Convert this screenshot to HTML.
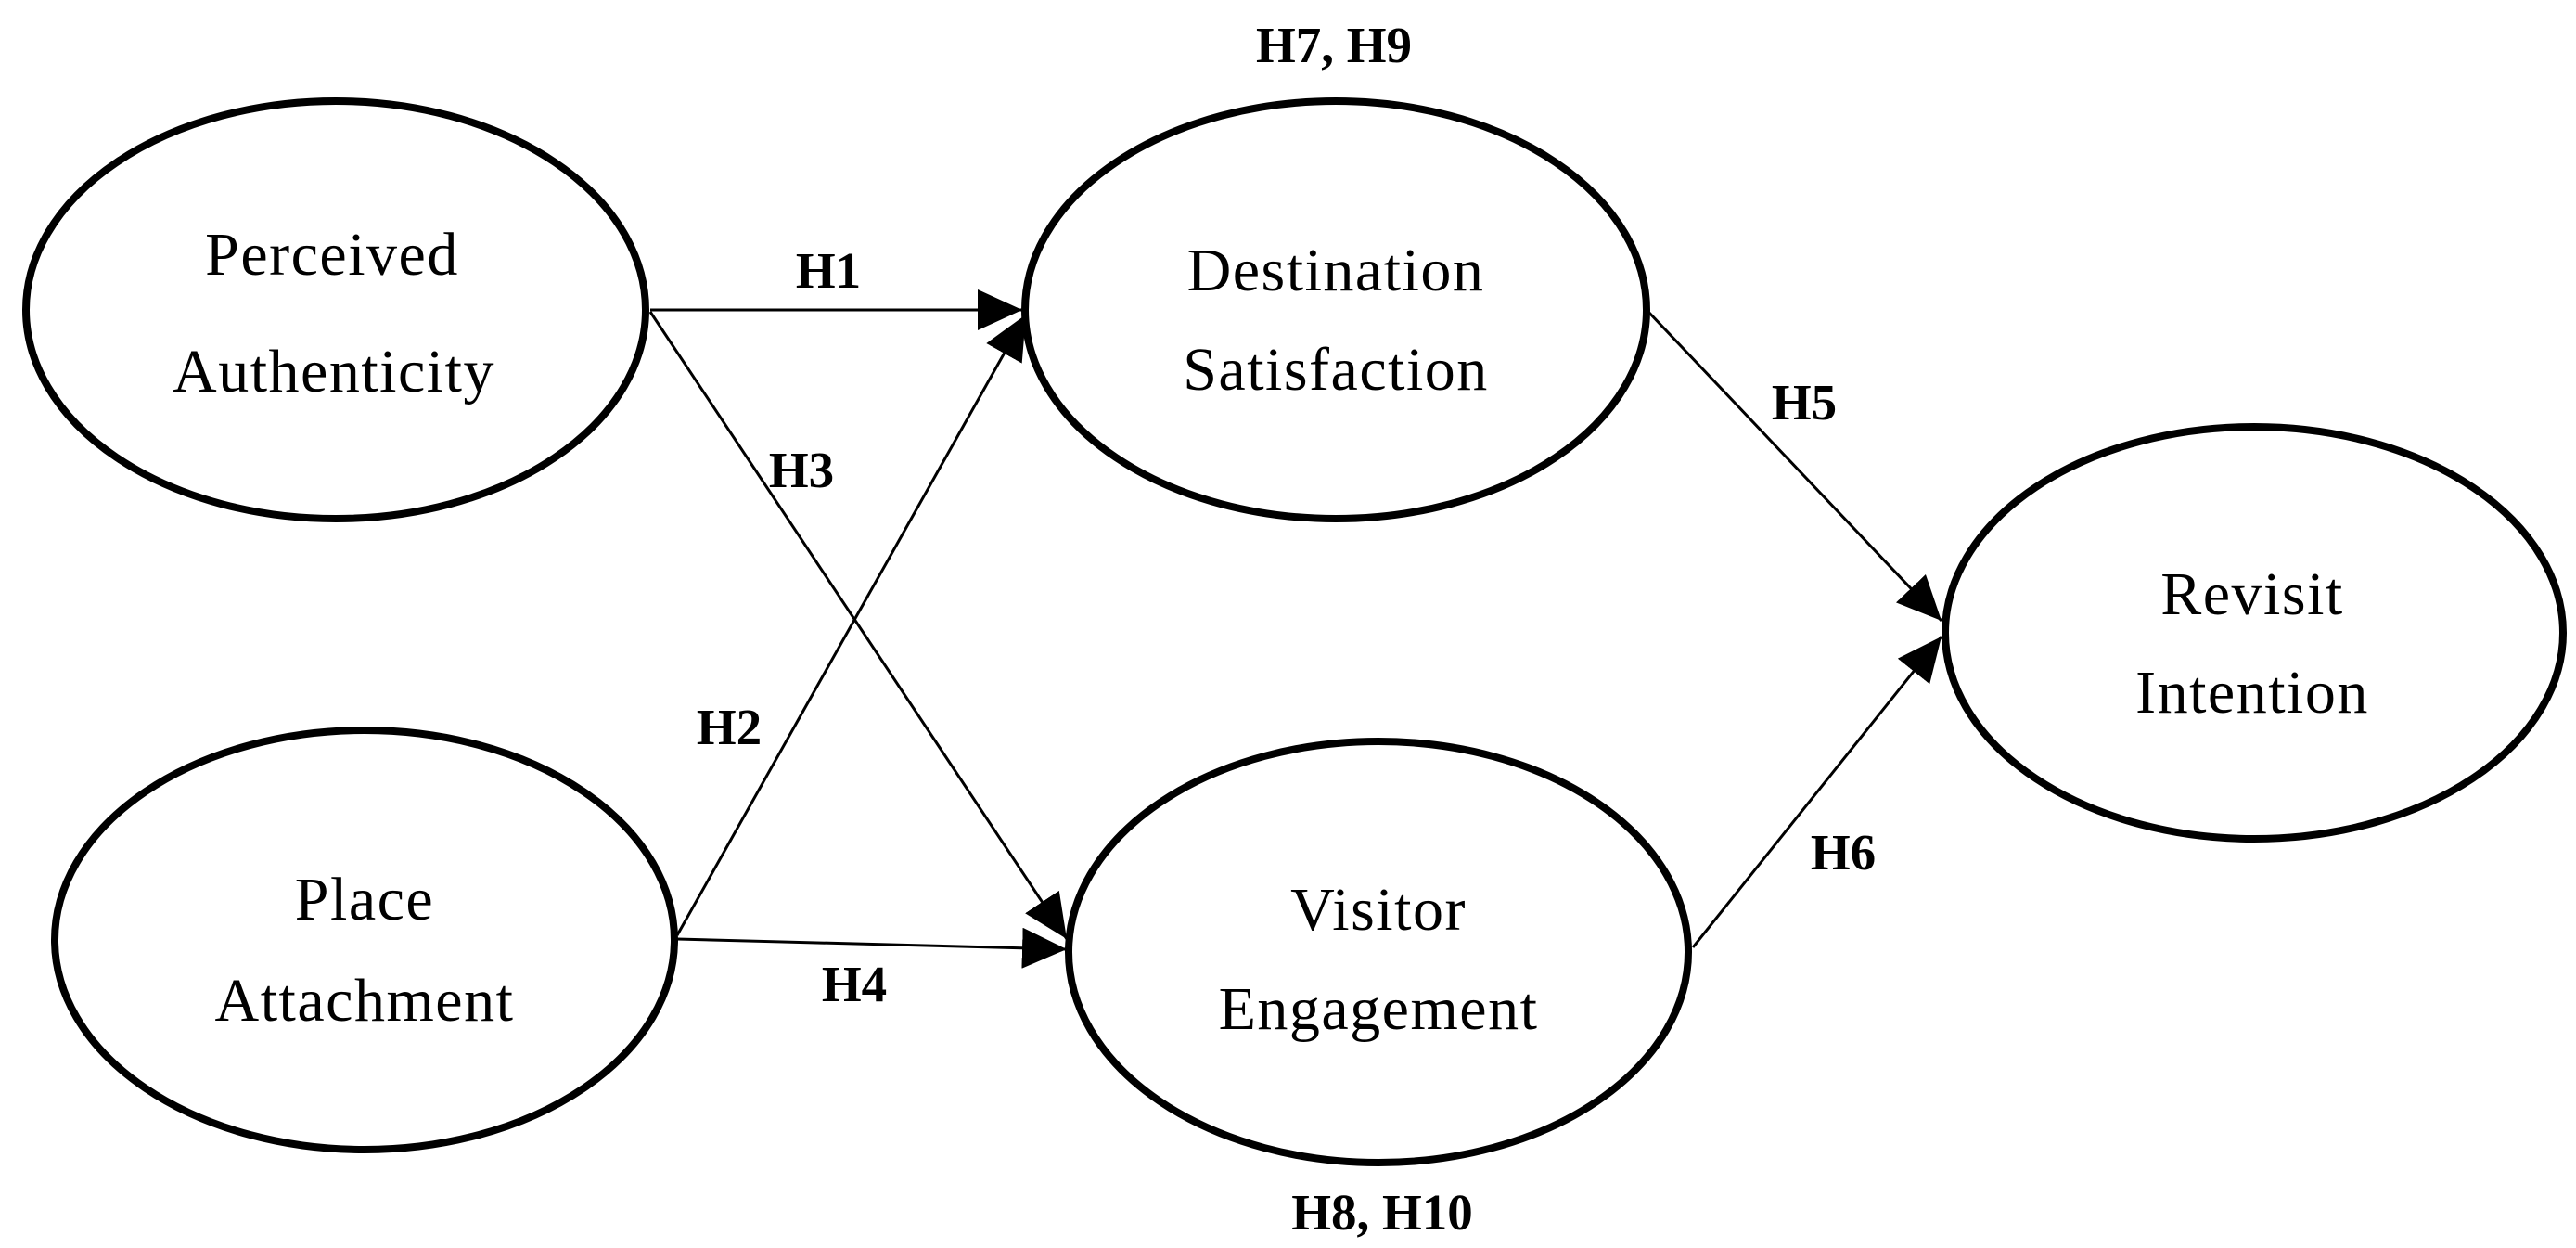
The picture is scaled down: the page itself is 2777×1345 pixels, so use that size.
<!DOCTYPE html>
<html><head><meta charset="utf-8"><style>
html,body{margin:0;padding:0;background:#fff;}
svg{display:block;}
.n{font-family:"Liberation Serif",serif;font-size:66px;letter-spacing:1.5px;fill:#000;}
.l{font-family:"Liberation Serif",serif;font-size:55px;font-weight:bold;fill:#000;}
</style></head><body>
<svg width="2777" height="1345" viewBox="0 0 2777 1345" xmlns="http://www.w3.org/2000/svg">
<defs>
<marker id="a" markerWidth="48" markerHeight="44" refX="48" refY="22" orient="auto" markerUnits="userSpaceOnUse">
<path d="M0,0 L48,22 L0,44 Z" fill="#000"/>
</marker>
</defs>
<g fill="none" stroke="#000" stroke-width="8">
<ellipse cx="362" cy="334" rx="334" ry="225"/>
<ellipse cx="393" cy="1013" rx="334" ry="226"/>
<ellipse cx="1440" cy="334" rx="335" ry="225"/>
<ellipse cx="1486" cy="1026" rx="334" ry="227"/>
<ellipse cx="2430" cy="682" rx="333" ry="222"/>
</g>
<g stroke="#000" stroke-width="3" fill="none">
<line x1="701" y1="334" x2="1102" y2="334" marker-end="url(#a)"/>
<line x1="701" y1="336" x2="1150" y2="1012" marker-end="url(#a)"/>
<line x1="730" y1="1008" x2="1106" y2="339" marker-end="url(#a)"/>
<line x1="730" y1="1012" x2="1150" y2="1023" marker-end="url(#a)"/>
<line x1="1777" y1="336" x2="2093" y2="669" marker-end="url(#a)"/>
<line x1="1825" y1="1021" x2="2093" y2="686" marker-end="url(#a)"/>
</g>
<g class="n" text-anchor="middle">
<text x="358" y="296">Perceived</text>
<text x="360" y="422">Authenticity</text>
<text x="393" y="991">Place</text>
<text x="393" y="1100">Attachment</text>
<text x="1440" y="313">Destination</text>
<text x="1440" y="420">Satisfaction</text>
<text x="1486" y="1002">Visitor</text>
<text x="1486" y="1109">Engagement</text>
<text x="2428" y="662">Revisit</text>
<text x="2428" y="768">Intention</text>
</g>
<g class="l" text-anchor="middle">
<text x="893" y="310">H1</text>
<text x="864" y="525">H3</text>
<text x="786" y="802">H2</text>
<text x="921" y="1079">H4</text>
<text x="1438" y="67">H7, H9</text>
<text x="1945" y="452">H5</text>
<text x="1987" y="937">H6</text>
<text x="1490" y="1325">H8, H10</text>
</g>
</svg>
</body></html>
